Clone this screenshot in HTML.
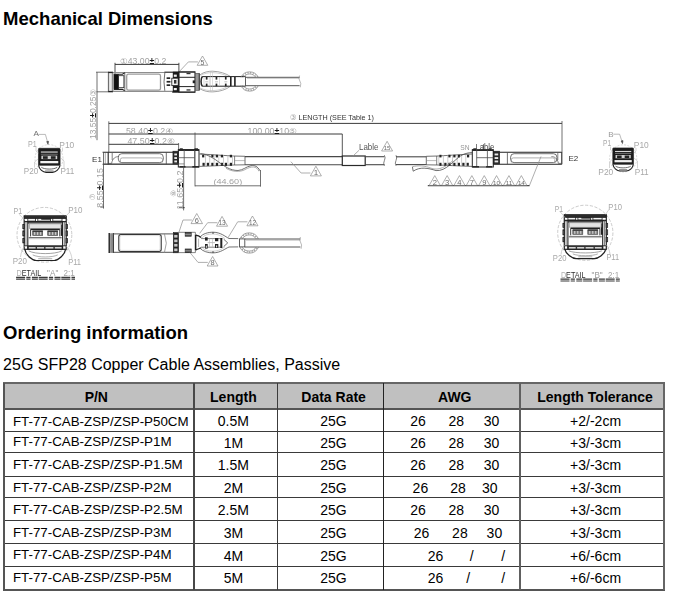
<!DOCTYPE html>
<html><head><meta charset="utf-8">
<style>
html,body{margin:0;padding:0;background:#fff;}
body{width:679px;height:598px;position:relative;overflow:hidden;font-family:"Liberation Sans",sans-serif;color:#000;}
h1{position:absolute;left:3.1px;margin:0;font-size:18.5px;font-weight:bold;line-height:20px;white-space:nowrap;}
#h1a{top:9px;}
#h1b{top:323px;}
#sub{position:absolute;left:3.1px;top:355.5px;font-size:16px;line-height:18px;white-space:nowrap;}
#tb{position:absolute;left:0;top:0;font-size:14px;}
#tb div{position:absolute;}
#tb .hl{left:4px;width:661px;height:1px;background:#3a3a3a;}
#tb .vl{top:383px;height:207px;width:1.4px;background:#444;}
#tb .t{width:200px;text-align:center;line-height:16px;height:16px;white-space:nowrap;}
#tb .b{font-weight:bold;}
#tb .p{text-align:left;font-size:13.35px;width:auto;}
#tb .n{text-align:left;width:auto;}
#dwg{position:absolute;left:0;top:40px;filter:blur(0.32px);}
</style></head><body>
<h1 id="h1a">Mechanical Dimensions</h1>
<svg id="dwg" width="679" height="270" viewBox="0 40 679 270" font-family="Liberation Sans, DejaVu Sans, sans-serif" fill="none">
<text x="120" y="64.1" font-size="8.3" fill="#a2a2a2" stroke="none" textLength="46.3" lengthAdjust="spacingAndGlyphs">①43.00<tspan fill="#1a1a1a" font-weight="bold">±</tspan>0.2</text>
<line x1="115" y1="64.4" x2="178.9" y2="64.4" stroke="#3a3a3a" stroke-width="1"/>
<line x1="115" y1="62.8" x2="115" y2="73.6" stroke="#3a3a3a" stroke-width="0.9"/>
<line x1="178.9" y1="62.8" x2="178.9" y2="72" stroke="#3a3a3a" stroke-width="0.9"/>
<polyline points="179,71.9 188.4,61.9 197.9,61.9" stroke="#8c8c8c" stroke-width="0.7" fill="none"/>
<polygon points="197.2,65.3 202.5,56.0 207.8,65.3" stroke="#8c8c8c" stroke-width="0.7" fill="none"/>
<text x="202.5" y="64.5" font-size="7" fill="#6a6a6a" stroke="none" text-anchor="middle">5</text>
<line x1="96" y1="72.2" x2="109" y2="72.2" stroke="#4c4c4c" stroke-width="0.8"/>
<line x1="97" y1="72.2" x2="97" y2="140.2" stroke="#4c4c4c" stroke-width="0.8"/>
<line x1="96.5" y1="91.8" x2="108.4" y2="91.8" stroke="#4c4c4c" stroke-width="0.8"/>
<text x="96.4" y="139" font-size="8.3" fill="#a2a2a2" stroke="none" textLength="50" lengthAdjust="spacingAndGlyphs" transform="rotate(-90 96.4 139)">13.55<tspan fill="#1a1a1a" font-weight="bold">±</tspan>0.25③</text>
<line x1="108.4" y1="72.2" x2="108.4" y2="91.8" stroke="#4c4c4c" stroke-width="0.9"/>
<line x1="112.8" y1="72.2" x2="112.8" y2="91.8" stroke="#4c4c4c" stroke-width="0.9"/>
<line x1="109.9" y1="72.5" x2="109.9" y2="91.5" stroke="#aaa" stroke-width="0.6"/>
<line x1="111.7" y1="72.5" x2="111.7" y2="91.5" stroke="#aaa" stroke-width="0.6"/>
<line x1="108.2" y1="72.4" x2="113" y2="72.4" stroke="#222" stroke-width="1.4"/>
<line x1="108.2" y1="91.6" x2="113" y2="91.6" stroke="#222" stroke-width="1.4"/>
<line x1="112.8" y1="72.5" x2="179" y2="72.5" stroke="#8e8e8e" stroke-width="1.2"/>
<line x1="112.8" y1="91.4" x2="179" y2="91.4" stroke="#8e8e8e" stroke-width="1.2"/>
<line x1="164.4" y1="72.1" x2="195" y2="72.1" stroke="#222" stroke-width="0.9"/>
<line x1="172" y1="92.1" x2="195" y2="92.1" stroke="#222" stroke-width="0.9"/>
<rect x="114" y="74.3" width="4.6" height="15" rx="0" stroke="#222" stroke-width="0.6" fill="#111"/>
<path d="M114,74.2 H122.4 L124.8,72.8 M114,89.4 H122.4 L124.8,90.9" stroke="#222" stroke-width="1.1" fill="none"/>
<rect x="118.6" y="75.7" width="5.3" height="12" rx="0" stroke="#222" stroke-width="0.8" fill="#fff"/>
<line x1="124.8" y1="72.8" x2="124.8" y2="91" stroke="#4c4c4c" stroke-width="0.8"/>
<rect x="126.7" y="74.1" width="33.8" height="16.1" rx="1.8" stroke="#9c9c9c" stroke-width="1.3" fill="none"/>
<path d="M164.8,73 Q163.2,81.8 164.8,90.8" stroke="#4c4c4c" stroke-width="0.8" fill="none"/>
<rect x="166.6" y="77.3" width="3.6" height="1.7" rx="0" stroke="#222" stroke-width="0" fill="#222"/>
<rect x="166.6" y="80.9" width="3.6" height="1.7" rx="0" stroke="#222" stroke-width="0" fill="#222"/>
<rect x="166.6" y="84.3" width="3.6" height="1.7" rx="0" stroke="#222" stroke-width="0" fill="#222"/>
<line x1="170.2" y1="81.8" x2="172.8" y2="81.8" stroke="#4c4c4c" stroke-width="0.7"/>
<rect x="172.8" y="71.7" width="6.2" height="20.7" rx="0" stroke="#222" stroke-width="0" fill="#1a1a1a"/>
<rect x="173.8" y="74.6" width="3" height="2.2" rx="0" stroke="#222" stroke-width="0" fill="#f0f0f0"/>
<rect x="173.8" y="88" width="3" height="2.2" rx="0" stroke="#222" stroke-width="0" fill="#f0f0f0"/>
<rect x="171.8" y="78.2" width="6.4" height="7.4" rx="0" stroke="#222" stroke-width="0.8" fill="#f4f4f4"/>
<rect x="174" y="80" width="2.4" height="3.6" rx="0" stroke="#222" stroke-width="0" fill="#333"/>
<rect x="179" y="71.9" width="16" height="20.3" rx="0" stroke="#222" stroke-width="1.1" fill="none"/>
<line x1="179" y1="77.3" x2="195" y2="77.3" stroke="#222" stroke-width="1"/>
<line x1="179" y1="86.6" x2="195" y2="86.6" stroke="#222" stroke-width="1"/>
<rect x="186.5" y="72.9" width="4" height="1.3" rx="0" stroke="#222" stroke-width="0" fill="#333"/>
<rect x="186.5" y="89.3" width="4" height="1.3" rx="0" stroke="#222" stroke-width="0" fill="#333"/>
<rect x="192.7" y="80.4" width="2.3" height="2.8" rx="0" stroke="#222" stroke-width="0" fill="#222"/>
<rect x="195.3" y="73.4" width="3.9" height="16.9" rx="0" stroke="#555" stroke-width="0.7" fill="#9a9a9a"/>
<line x1="199.3" y1="73.4" x2="199.3" y2="90.3" stroke="#333" stroke-width="0.9"/>
<path d="M200,74.8 C204,72 208,71.2 212.5,71.2 C220,71.4 226,73.6 230.5,76.5 M200,88.8 C204,91.2 208,91.9 212.5,91.9 C220,91.7 226,89.6 230.5,86.2" stroke="#8e8e8e" stroke-width="0.8" fill="none"/>
<path d="M200.4,75.6 C204,73.4 208,72.6 212.5,72.6 C219,72.8 224,74.4 228,76.5 M200.4,88 C204,90 208,90.6 212.5,90.6 C219,90.4 224,88.9 228,86.2" stroke="#b0b0b0" stroke-width="0.6" fill="none"/>
<path d="M202.4,76.6 C200.6,78.5 200.6,84.5 202.4,86.2" stroke="#222" stroke-width="1.5" fill="none"/>
<line x1="202.2" y1="76.6" x2="245.5" y2="76.6" stroke="#222" stroke-width="1"/>
<line x1="202.2" y1="86.2" x2="245.5" y2="86.2" stroke="#222" stroke-width="1"/>
<line x1="204" y1="77" x2="204" y2="86" stroke="#c4c4c4" stroke-width="0.6"/>
<line x1="209.3" y1="77" x2="209.3" y2="86" stroke="#c4c4c4" stroke-width="0.6"/>
<line x1="219.5" y1="77" x2="219.5" y2="86" stroke="#c4c4c4" stroke-width="0.6"/>
<line x1="210.4" y1="71.4" x2="210.4" y2="91.7" stroke="#bbb" stroke-width="0.5"/>
<line x1="212.5" y1="71.4" x2="212.5" y2="91.7" stroke="#bbb" stroke-width="0.5"/>
<rect x="205.8" y="77" width="1.7" height="2.6" rx="0" stroke="#222" stroke-width="0" fill="#222"/>
<rect x="205.8" y="83.6" width="1.7" height="2.6" rx="0" stroke="#222" stroke-width="0" fill="#222"/>
<line x1="205.20000000000002" y1="81.8" x2="208.20000000000002" y2="81.8" stroke="#999" stroke-width="0.6"/>
<rect x="215.6" y="77" width="1.7" height="2.6" rx="0" stroke="#222" stroke-width="0" fill="#222"/>
<rect x="215.6" y="83.6" width="1.7" height="2.6" rx="0" stroke="#222" stroke-width="0" fill="#222"/>
<line x1="215.0" y1="81.8" x2="218.0" y2="81.8" stroke="#999" stroke-width="0.6"/>
<rect x="224.9" y="77" width="1.7" height="2.6" rx="0" stroke="#222" stroke-width="0" fill="#222"/>
<rect x="224.9" y="83.6" width="1.7" height="2.6" rx="0" stroke="#222" stroke-width="0" fill="#222"/>
<line x1="224.3" y1="81.8" x2="227.3" y2="81.8" stroke="#999" stroke-width="0.6"/>
<rect x="230" y="77" width="1.6" height="9.2" rx="0" stroke="#222" stroke-width="0" fill="#222"/>
<rect x="234.1" y="77" width="1.6" height="9.2" rx="0" stroke="#222" stroke-width="0" fill="#222"/>
<line x1="245.5" y1="76.6" x2="245.5" y2="86.2" stroke="#4c4c4c" stroke-width="0.9"/>
<line x1="245.6" y1="77.3" x2="299.6" y2="77.3" stroke="#555" stroke-width="1"/>
<line x1="245.6" y1="85.7" x2="299.6" y2="85.7" stroke="#555" stroke-width="1"/>
<line x1="247" y1="78.3" x2="299.6" y2="78.3" stroke="#8c8c8c" stroke-width="0.5"/>
<path d="M299.6,75.5 l-0.7,3 l1.9,5 l-0.5,3.8" stroke="#8c8c8c" stroke-width="0.6" fill="none"/>
<path d="M258.3,77.3 A9.7,9.7 0 0 0 240.9,77.3" stroke="#777" stroke-width="0.7" fill="none"/>
<path d="M240.9,85.7 A9.7,9.7 0 0 0 258.3,85.7" stroke="#777" stroke-width="0.7" fill="none"/>
<path d="M255.9,77.3 A7.6,7.6 0 0 0 243.3,77.3" stroke="#777" stroke-width="0.7" fill="none"/>
<path d="M243.3,85.7 A7.6,7.6 0 0 0 255.9,85.7" stroke="#777" stroke-width="0.7" fill="none"/>
<path d="M257.2,77.3 A8.649999999999999,8.649999999999999 0 0 0 242.0,77.3" stroke="#8c8c8c" stroke-width="1.6" fill="none" stroke-dasharray="0.7 1.9"/>
<path d="M242.0,85.7 A8.649999999999999,8.649999999999999 0 0 0 257.2,85.7" stroke="#8c8c8c" stroke-width="1.6" fill="none" stroke-dasharray="0.7 1.9"/>
<line x1="108.8" y1="121.3" x2="108.8" y2="152" stroke="#4c4c4c" stroke-width="0.8"/>
<line x1="108.8" y1="123.4" x2="562" y2="123.4" stroke="#3c3c3c" stroke-width="1"/>
<line x1="562" y1="121" x2="562" y2="152.5" stroke="#4c4c4c" stroke-width="0.8"/>
<text x="290" y="120.4" font-size="8.1" fill="#333" stroke="none" textLength="84" lengthAdjust="spacingAndGlyphs"><tspan fill="#999">③</tspan> LENGTH (SEE Table 1)</text>
<line x1="108.8" y1="134" x2="342.3" y2="134" stroke="#3a3a3a" stroke-width="1"/>
<text x="125.9" y="133.8" font-size="8.3" fill="#a2a2a2" stroke="none" textLength="47.3" lengthAdjust="spacingAndGlyphs">58.40<tspan fill="#1a1a1a" font-weight="bold">±</tspan>0.2④</text>
<text x="247.5" y="133.9" font-size="8.3" fill="#a2a2a2" stroke="none" textLength="49.5" lengthAdjust="spacingAndGlyphs">100.00<tspan fill="#1a1a1a" font-weight="bold">±</tspan>10⑤</text>
<line x1="195" y1="132.5" x2="195" y2="186.4" stroke="#4c4c4c" stroke-width="0.8"/>
<line x1="342.3" y1="134" x2="342.3" y2="156" stroke="#444" stroke-width="0.9"/>
<line x1="108.8" y1="144.3" x2="178.6" y2="144.3" stroke="#3a3a3a" stroke-width="1"/>
<text x="127.4" y="144.2" font-size="8.3" fill="#a2a2a2" stroke="none" textLength="47.6" lengthAdjust="spacingAndGlyphs">47.50<tspan fill="#1a1a1a" font-weight="bold">±</tspan>0.2⑥</text>
<line x1="178.6" y1="143" x2="178.6" y2="151.5" stroke="#4c4c4c" stroke-width="0.8"/>
<text x="92.1" y="162.3" font-size="8" fill="#333" stroke="none">E1</text>
<line x1="105.3" y1="153" x2="105.3" y2="163.6" stroke="#8c8c8c" stroke-width="0.7"/>
<line x1="102.6" y1="152.2" x2="173" y2="152.2" stroke="#222" stroke-width="1.1"/>
<line x1="102.6" y1="164.2" x2="178.3" y2="164.2" stroke="#222" stroke-width="1.1"/>
<line x1="108.2" y1="152.2" x2="108.2" y2="164.2" stroke="#222" stroke-width="1.1"/>
<path d="M112.2,153 V160 M108.5,163.4 H111.60000000000001 C112.60000000000001,158 115.60000000000001,156.6 118.60000000000001,156.6" stroke="#4c4c4c" stroke-width="0.7" fill="none"/>
<rect x="118.3" y="153.7" width="45.0" height="8.9" rx="3.5" stroke="#4c4c4c" stroke-width="0.8" fill="none"/>
<path d="M120.39999999999999,162.4 V159.6 Q120.39999999999999,157.9 122.39999999999999,157.9 H160.50000000000003 Q162.60000000000002,157.9 162.60000000000002,159.6 V162.4" stroke="#8c8c8c" stroke-width="0.7" fill="none"/>
<line x1="166.3" y1="152.2" x2="166.3" y2="164.2" stroke="#4c4c4c" stroke-width="0.8"/>
<rect x="173" y="151.3" width="5.3" height="12.6" rx="0" stroke="#222" stroke-width="0.8" fill="#2a2a2a"/>
<rect x="174.3" y="153.5" width="2.7" height="1.9" rx="0" stroke="#fff" stroke-width="0" fill="#e8e8e8"/>
<rect x="174.3" y="157.1" width="2.7" height="1.9" rx="0" stroke="#fff" stroke-width="0" fill="#e8e8e8"/>
<rect x="174.3" y="160.5" width="2.7" height="1.9" rx="0" stroke="#fff" stroke-width="0" fill="#e8e8e8"/>
<rect x="178.3" y="149.7" width="20.7" height="17.3" rx="0" stroke="#222" stroke-width="1" fill="none"/>
<line x1="178.3" y1="150.1" x2="199" y2="150.1" stroke="#222" stroke-width="1.7"/>
<line x1="179.8" y1="148.9" x2="182.8" y2="148.9" stroke="#222" stroke-width="1.2"/>
<line x1="194.5" y1="148.9" x2="198" y2="148.9" stroke="#222" stroke-width="1.2"/>
<line x1="178.3" y1="157.7" x2="194.6" y2="157.7" stroke="#4c4c4c" stroke-width="0.8"/>
<line x1="184.20000000000002" y1="150" x2="184.20000000000002" y2="167" stroke="#4c4c4c" stroke-width="0.8"/>
<line x1="194.6" y1="150" x2="194.6" y2="167" stroke="#4c4c4c" stroke-width="0.8"/>
<line x1="179.5" y1="166.8" x2="185.5" y2="166.8" stroke="#222" stroke-width="1.4"/>
<line x1="192.3" y1="166.8" x2="199" y2="166.8" stroke="#222" stroke-width="1.4"/>
<path d="M199.3,154 L205.3,154.3 L233.3,156 L245.0,156.3 M199.3,166.4 L205.3,166.2 L233.3,165 L245.0,164.8" stroke="#4c4c4c" stroke-width="0.8" fill="none"/>
<line x1="245.0" y1="156.3" x2="245.0" y2="164.8" stroke="#4c4c4c" stroke-width="0.8"/>
<line x1="234.6" y1="156" x2="234.6" y2="165" stroke="#4c4c4c" stroke-width="0.7"/>
<line x1="234.6" y1="160.6" x2="245.0" y2="160.6" stroke="#8c8c8c" stroke-width="0.6"/>
<rect x="202.1" y="154.8" width="2.2" height="2.6" rx="0" stroke="#222" stroke-width="0" fill="#222"/>
<rect x="211.3" y="154.8" width="2.2" height="2.6" rx="0" stroke="#222" stroke-width="0" fill="#222"/>
<rect x="215.8" y="154.8" width="2.2" height="2.6" rx="0" stroke="#222" stroke-width="0" fill="#222"/>
<rect x="220.8" y="154.8" width="2.2" height="2.6" rx="0" stroke="#222" stroke-width="0" fill="#222"/>
<rect x="229.8" y="154.8" width="2.2" height="2.6" rx="0" stroke="#222" stroke-width="0" fill="#222"/>
<rect x="202.5" y="162.8" width="2.2" height="3" rx="0" stroke="#222" stroke-width="0" fill="#222"/>
<rect x="206.8" y="162.8" width="2.2" height="3" rx="0" stroke="#222" stroke-width="0" fill="#222"/>
<rect x="211.3" y="162.8" width="2.2" height="3" rx="0" stroke="#222" stroke-width="0" fill="#222"/>
<rect x="215.8" y="162.8" width="2.2" height="3" rx="0" stroke="#222" stroke-width="0" fill="#222"/>
<rect x="220.8" y="162.8" width="2.2" height="3" rx="0" stroke="#222" stroke-width="0" fill="#222"/>
<rect x="224.8" y="162.8" width="2.2" height="3" rx="0" stroke="#222" stroke-width="0" fill="#222"/>
<rect x="229.8" y="162.8" width="2.2" height="3" rx="0" stroke="#222" stroke-width="0" fill="#222"/>
<line x1="205.5" y1="155" x2="205.5" y2="165.6" stroke="#aaa" stroke-width="0.6"/>
<line x1="209.7" y1="155" x2="209.7" y2="165.6" stroke="#aaa" stroke-width="0.6"/>
<line x1="214.1" y1="155" x2="214.1" y2="165.6" stroke="#aaa" stroke-width="0.6"/>
<line x1="218.8" y1="155" x2="218.8" y2="165.6" stroke="#aaa" stroke-width="0.6"/>
<line x1="223.5" y1="155" x2="223.5" y2="165.6" stroke="#aaa" stroke-width="0.6"/>
<line x1="227.9" y1="155" x2="227.9" y2="165.6" stroke="#aaa" stroke-width="0.6"/>
<line x1="232.5" y1="155" x2="232.5" y2="165.6" stroke="#aaa" stroke-width="0.6"/>
<line x1="245" y1="156.6" x2="342.3" y2="156.6" stroke="#484848" stroke-width="1.1"/>
<line x1="245" y1="164.8" x2="342.3" y2="164.8" stroke="#484848" stroke-width="1.1"/>
<rect x="342.3" y="156" width="22.9" height="9.5" rx="0" stroke="#2a2a2a" stroke-width="1.2" fill="none"/>
<line x1="365.2" y1="156.7" x2="384.4" y2="156.7" stroke="#484848" stroke-width="1.1"/>
<line x1="365.2" y1="164.7" x2="384.4" y2="164.7" stroke="#484848" stroke-width="1.1"/>
<path d="M384.4,155.2 q1.4,2.6 0,5.3 q-1.4,2.6 0,5.3" stroke="#4c4c4c" stroke-width="0.7" fill="none"/>
<path d="M396,155.2 q1.4,2.6 0,5.3 q-1.4,2.6 0,5.3" stroke="#4c4c4c" stroke-width="0.7" fill="none"/>
<path d="M200.4,153.7 C206,154 212,157 218,161.5 C224,166 230,170.6 238,170.5 C243,170.3 246,166.6 251,165.7 C255,165.1 257.5,166.5 259.8,170.4" stroke="#4c4c4c" stroke-width="0.8" fill="none"/>
<path d="M226,168.3 C232,171.8 240,172.4 245,169.6 C248,167.8 251,166.9 253.5,167 C256,167.2 257.6,168.6 258.8,171 L259.8,170.4" stroke="#8c8c8c" stroke-width="0.7" fill="none"/>
<line x1="195" y1="185.8" x2="260.5" y2="185.8" stroke="#4c4c4c" stroke-width="0.8"/>
<line x1="260.5" y1="170" x2="260.5" y2="186.6" stroke="#4c4c4c" stroke-width="0.8"/>
<text x="213.4" y="183.6" font-size="8" fill="#a2a2a2" stroke="none" textLength="28.8" lengthAdjust="spacingAndGlyphs">(44.60)</text>
<polyline points="290.9,161.7 301.1,173 310.4,173" stroke="#8c8c8c" stroke-width="0.7" fill="none"/>
<polygon points="310.4,175.9 315.9,166.2 321.4,175.9" stroke="#8c8c8c" stroke-width="0.7" fill="none"/>
<text x="315.9" y="175.1" font-size="8" fill="#6a6a6a" stroke="none" text-anchor="middle">1</text>
<text x="359" y="150" font-size="8.4" fill="#555" stroke="none" textLength="19.5" lengthAdjust="spacingAndGlyphs">Lable</text>
<line x1="359" y1="150.3" x2="352.8" y2="156.2" stroke="#8c8c8c" stroke-width="0.7"/>
<polygon points="381.6,151 387.1,141.3 392.6,151" stroke="#8c8c8c" stroke-width="0.7" fill="none"/>
<text x="387.1" y="150.2" font-size="6" fill="#6a6a6a" stroke="none" text-anchor="middle">15</text>
<line x1="103.5" y1="152.3" x2="103.5" y2="208.6" stroke="#4c4c4c" stroke-width="0.8"/>
<line x1="100.3" y1="207" x2="103.5" y2="207" stroke="#222" stroke-width="0.8"/>
<text x="102.9" y="207.7" font-size="8.3" fill="#a2a2a2" stroke="none" textLength="39.7" lengthAdjust="spacingAndGlyphs" transform="rotate(-90 102.9 207.7)">8.55<tspan fill="#1a1a1a" font-weight="bold">±</tspan>0.15</text>
<text x="95" y="200.2" font-size="7.5" fill="#a2a2a2" stroke="none" transform="rotate(-90 95 200.2)">⑦</text>
<line x1="103.5" y1="163.9" x2="184.2" y2="163.9" stroke="#4c4c4c" stroke-width="0.6"/>
<line x1="183.6" y1="166" x2="183.6" y2="210.4" stroke="#4c4c4c" stroke-width="0.8"/>
<line x1="179" y1="207.7" x2="184.8" y2="207.7" stroke="#222" stroke-width="0.8"/>
<text x="182.8" y="209.5" font-size="8.3" fill="#a2a2a2" stroke="none" textLength="39" lengthAdjust="spacingAndGlyphs" transform="rotate(-90 182.8 209.5)">11.65<tspan fill="#1a1a1a" font-weight="bold">±</tspan>0.2</text>
<text x="176" y="196.8" font-size="7.5" fill="#a2a2a2" stroke="none" transform="rotate(-90 176 196.8)">⑧</text>
<text x="568.4" y="160.7" font-size="8" fill="#333" stroke="none">E2</text>
<line x1="396" y1="156.8" x2="426.4" y2="156.8" stroke="#484848" stroke-width="1.1"/>
<line x1="396" y1="164.6" x2="426.4" y2="164.6" stroke="#484848" stroke-width="1.1"/>
<path d="M472,154 L466,154.3 L438,156 L426.3,156.3 M472,166.4 L466,166.2 L438,165 L426.3,164.8" stroke="#4c4c4c" stroke-width="0.8" fill="none"/>
<line x1="426.3" y1="156.3" x2="426.3" y2="164.8" stroke="#4c4c4c" stroke-width="0.8"/>
<line x1="436.7" y1="156" x2="436.7" y2="165" stroke="#4c4c4c" stroke-width="0.7"/>
<line x1="436.7" y1="160.6" x2="426.3" y2="160.6" stroke="#8c8c8c" stroke-width="0.6"/>
<rect x="467.0" y="154.8" width="2.2" height="2.6" rx="0" stroke="#222" stroke-width="0" fill="#222"/>
<rect x="457.8" y="154.8" width="2.2" height="2.6" rx="0" stroke="#222" stroke-width="0" fill="#222"/>
<rect x="453.3" y="154.8" width="2.2" height="2.6" rx="0" stroke="#222" stroke-width="0" fill="#222"/>
<rect x="448.3" y="154.8" width="2.2" height="2.6" rx="0" stroke="#222" stroke-width="0" fill="#222"/>
<rect x="439.3" y="154.8" width="2.2" height="2.6" rx="0" stroke="#222" stroke-width="0" fill="#222"/>
<rect x="466.6" y="162.8" width="2.2" height="3" rx="0" stroke="#222" stroke-width="0" fill="#222"/>
<rect x="462.3" y="162.8" width="2.2" height="3" rx="0" stroke="#222" stroke-width="0" fill="#222"/>
<rect x="457.8" y="162.8" width="2.2" height="3" rx="0" stroke="#222" stroke-width="0" fill="#222"/>
<rect x="453.3" y="162.8" width="2.2" height="3" rx="0" stroke="#222" stroke-width="0" fill="#222"/>
<rect x="448.3" y="162.8" width="2.2" height="3" rx="0" stroke="#222" stroke-width="0" fill="#222"/>
<rect x="444.3" y="162.8" width="2.2" height="3" rx="0" stroke="#222" stroke-width="0" fill="#222"/>
<rect x="439.3" y="162.8" width="2.2" height="3" rx="0" stroke="#222" stroke-width="0" fill="#222"/>
<line x1="465.8" y1="155" x2="465.8" y2="165.6" stroke="#aaa" stroke-width="0.6"/>
<line x1="461.6" y1="155" x2="461.6" y2="165.6" stroke="#aaa" stroke-width="0.6"/>
<line x1="457.2" y1="155" x2="457.2" y2="165.6" stroke="#aaa" stroke-width="0.6"/>
<line x1="452.5" y1="155" x2="452.5" y2="165.6" stroke="#aaa" stroke-width="0.6"/>
<line x1="447.8" y1="155" x2="447.8" y2="165.6" stroke="#aaa" stroke-width="0.6"/>
<line x1="443.4" y1="155" x2="443.4" y2="165.6" stroke="#aaa" stroke-width="0.6"/>
<line x1="438.8" y1="155" x2="438.8" y2="165.6" stroke="#aaa" stroke-width="0.6"/>
<line x1="561.8" y1="152.2" x2="499.5" y2="152.2" stroke="#222" stroke-width="1.1"/>
<line x1="561.8" y1="164.2" x2="493.3" y2="164.2" stroke="#222" stroke-width="1.1"/>
<line x1="561.8" y1="152.2" x2="561.8" y2="164.2" stroke="#222" stroke-width="1.1"/>
<path d="M557.8,153 V160 M561.5,163.4 H558.4 C557.4,158 554.4,156.6 551.4,156.6" stroke="#4c4c4c" stroke-width="0.7" fill="none"/>
<rect x="510.6" y="153.7" width="46.3" height="8.9" rx="3.5" stroke="#4c4c4c" stroke-width="0.8" fill="none"/>
<path d="M554.8,162.4 V159.6 Q554.8,157.9 552.8,157.9 H513.4 Q511.3,157.9 511.3,159.6 V162.4" stroke="#8c8c8c" stroke-width="0.7" fill="none"/>
<line x1="507.4" y1="152.2" x2="507.4" y2="164.2" stroke="#4c4c4c" stroke-width="0.8"/>
<rect x="493.3" y="151.3" width="6.2" height="12.6" rx="0" stroke="#222" stroke-width="0.8" fill="#2a2a2a"/>
<rect x="494.6" y="153.5" width="3.6" height="1.9" rx="0" stroke="#fff" stroke-width="0" fill="#e8e8e8"/>
<rect x="494.6" y="157.1" width="3.6" height="1.9" rx="0" stroke="#fff" stroke-width="0" fill="#e8e8e8"/>
<rect x="494.6" y="160.5" width="3.6" height="1.9" rx="0" stroke="#fff" stroke-width="0" fill="#e8e8e8"/>
<rect x="472.3" y="149.7" width="21.0" height="17.3" rx="0" stroke="#222" stroke-width="1" fill="none"/>
<line x1="493.3" y1="150.1" x2="472.3" y2="150.1" stroke="#222" stroke-width="1.7"/>
<line x1="491.8" y1="148.9" x2="488.8" y2="148.9" stroke="#222" stroke-width="1.2"/>
<line x1="476.8" y1="148.9" x2="473.3" y2="148.9" stroke="#222" stroke-width="1.2"/>
<line x1="493.3" y1="157.7" x2="476.7" y2="157.7" stroke="#4c4c4c" stroke-width="0.8"/>
<line x1="487.40000000000003" y1="150" x2="487.40000000000003" y2="167" stroke="#4c4c4c" stroke-width="0.8"/>
<line x1="476.7" y1="150" x2="476.7" y2="167" stroke="#4c4c4c" stroke-width="0.8"/>
<line x1="492.1" y1="166.8" x2="486.1" y2="166.8" stroke="#222" stroke-width="1.4"/>
<line x1="479.0" y1="166.8" x2="472.3" y2="166.8" stroke="#222" stroke-width="1.4"/>
<text x="460.2" y="149.6" font-size="7.2" fill="#969696" stroke="none" textLength="9.3" lengthAdjust="spacingAndGlyphs">SN</text>
<text x="475.4" y="149.6" font-size="8.2" fill="#4a4a4a" stroke="none" textLength="18.9" lengthAdjust="spacingAndGlyphs">Lable</text>
<line x1="483.6" y1="144.2" x2="483.6" y2="150" stroke="#222" stroke-width="0.7"/>
<path d="M412.4,166.8 L413.2,171.2 C420,166.5 428,168 436,170.6 C446,171.5 454,160 461,155.6 C465,153.3 469,152.6 472.5,152.5" stroke="#4c4c4c" stroke-width="0.8" fill="none"/>
<path d="M412.4,166.8 C418,165.2 425,165.6 431,168.2 C439,171.2 447,166 453,160.5" stroke="#8c8c8c" stroke-width="0.7" fill="none"/>
<line x1="427.8" y1="185.7" x2="529.6" y2="185.7" stroke="#4a4a4a" stroke-width="1.2"/>
<line x1="529.4" y1="185.7" x2="541" y2="156.5" stroke="#8c8c8c" stroke-width="0.7"/>
<polygon points="429.2,185.4 434.75,175.6 440.3,185.4" stroke="#8c8c8c" stroke-width="0.7" fill="none"/>
<text x="434.75" y="184.6" font-size="7.6" fill="#6a6a6a" stroke="none" text-anchor="middle">2</text>
<polygon points="441.6,185.4 447.15,175.6 452.7,185.4" stroke="#8c8c8c" stroke-width="0.7" fill="none"/>
<text x="447.15" y="184.6" font-size="7.6" fill="#6a6a6a" stroke="none" text-anchor="middle">3</text>
<polygon points="453.9,185.4 459.45,175.6 465.0,185.4" stroke="#8c8c8c" stroke-width="0.7" fill="none"/>
<text x="459.45" y="184.6" font-size="7.6" fill="#6a6a6a" stroke="none" text-anchor="middle">4</text>
<polygon points="466.3,185.4 471.85,175.6 477.4,185.4" stroke="#8c8c8c" stroke-width="0.7" fill="none"/>
<text x="471.85" y="184.6" font-size="7.6" fill="#6a6a6a" stroke="none" text-anchor="middle">7</text>
<polygon points="478.7,185.4 484.25,175.6 489.8,185.4" stroke="#8c8c8c" stroke-width="0.7" fill="none"/>
<text x="484.25" y="184.6" font-size="7.6" fill="#6a6a6a" stroke="none" text-anchor="middle">9</text>
<polygon points="491.0,185.4 496.55,175.6 502.1,185.4" stroke="#8c8c8c" stroke-width="0.7" fill="none"/>
<text x="496.55" y="184.6" font-size="6.2" fill="#6a6a6a" stroke="none" text-anchor="middle">10</text>
<polygon points="503.4,185.4 508.95,175.6 514.5,185.4" stroke="#8c8c8c" stroke-width="0.7" fill="none"/>
<text x="508.95" y="184.6" font-size="6.2" fill="#6a6a6a" stroke="none" text-anchor="middle">11</text>
<polygon points="515.8,185.4 521.3499999999999,175.6 526.9,185.4" stroke="#8c8c8c" stroke-width="0.7" fill="none"/>
<text x="521.3499999999999" y="184.6" font-size="6.2" fill="#6a6a6a" stroke="none" text-anchor="middle">14</text>
<rect x="109.2" y="233.3" width="4.2" height="19.599999999999987" rx="0" stroke="#333" stroke-width="0" fill="#aaa"/>
<line x1="109.2" y1="233.1" x2="109.2" y2="253.1" stroke="#222" stroke-width="1.4"/>
<line x1="113.3" y1="233.1" x2="113.3" y2="253.1" stroke="#222" stroke-width="1.1"/>
<line x1="111.2" y1="233.3" x2="111.2" y2="252.9" stroke="#666" stroke-width="0.6"/>
<line x1="113.8" y1="233.8" x2="173.6" y2="233.8" stroke="#767676" stroke-width="1.3"/>
<line x1="113.8" y1="252.29999999999998" x2="173.6" y2="252.29999999999998" stroke="#767676" stroke-width="1.3"/>
<rect x="118.8" y="234.5" width="42.4" height="17" rx="2.2" stroke="#333" stroke-width="1.1" fill="none"/>
<rect x="119.9" y="235.6" width="40.2" height="14.8" rx="1.6" stroke="#c4c4c4" stroke-width="0.6" fill="none"/>
<path d="M164.4,233.6 L166.3,243.2 L164.4,252.6" stroke="#8c8c8c" stroke-width="0.8" fill="none"/>
<rect x="173.3" y="232.6" width="5.3" height="20.2" rx="0" stroke="#222" stroke-width="0.6" fill="#222"/>
<rect x="174.2" y="234.9" width="3.3" height="2.7" rx="0" stroke="#ddd" stroke-width="0" fill="#c8c8c8"/>
<rect x="174.2" y="239.5" width="3.3" height="2.7" rx="0" stroke="#ddd" stroke-width="0" fill="#c8c8c8"/>
<rect x="174.2" y="243.9" width="3.3" height="2.7" rx="0" stroke="#ddd" stroke-width="0" fill="#c8c8c8"/>
<rect x="174.2" y="248.5" width="3.3" height="2.7" rx="0" stroke="#ddd" stroke-width="0" fill="#c8c8c8"/>
<path d="M178.6,232.3 H195.4 M178.6,252.6 H195.4" stroke="#666" stroke-width="0.8" fill="none"/>
<rect x="185.2" y="232.6" width="6" height="3.6" rx="0" stroke="#222" stroke-width="0.7" fill="#555"/>
<rect x="185.2" y="249" width="6" height="3.6" rx="0" stroke="#222" stroke-width="0.7" fill="#555"/>
<line x1="185.2" y1="234.4" x2="191.2" y2="234.4" stroke="#ccc" stroke-width="0.5"/>
<line x1="185.2" y1="250.8" x2="191.2" y2="250.8" stroke="#ccc" stroke-width="0.5"/>
<path d="M195.6,234.6 V250.4" stroke="#222" stroke-width="1.6" fill="none"/>
<path d="M195.6,235.2 C198,235.6 200,236.6 201.2,237.4 M195.6,249.8 C198,249.4 200,248.4 201.2,247.8" stroke="#222" stroke-width="1.2" fill="none"/>
<path d="M198.6,238.5 V247" stroke="#999" stroke-width="0.7" fill="none"/>
<line x1="195.4" y1="232.3" x2="195.4" y2="234.6" stroke="#666" stroke-width="0.8"/>
<line x1="195.4" y1="250.4" x2="195.4" y2="252.6" stroke="#666" stroke-width="0.8"/>
<path d="M199.8,237.3 C203,233.5 208,232.3 213,232.2 C221,232.4 225,236.5 229,238.5 L238.2,238.6 M199.8,248 C203,251.6 208,252.8 213,252.9 C221,252.7 225,248.6 229,247 L238.2,246.9" stroke="#4c4c4c" stroke-width="0.8" fill="none"/>
<path d="M201.5,238.6 C204,235 208,234 213,234 C219,234.2 222,236.6 225,238.6 M201.5,246.8 C204,250.3 208,251.2 213,251.2 C219,251 222,248.8 225,246.8" stroke="#b0b0b0" stroke-width="0.6" fill="none"/>
<line x1="201.2" y1="238.6" x2="222.4" y2="238.6" stroke="#4c4c4c" stroke-width="0.7"/>
<line x1="201.2" y1="247.2" x2="222.4" y2="247.2" stroke="#4c4c4c" stroke-width="0.7"/>
<rect x="205" y="237.3" width="2.7" height="3.3" rx="0" stroke="#222" stroke-width="0" fill="#222"/>
<rect x="205" y="244" width="2.7" height="4.6" rx="0" stroke="#222" stroke-width="0" fill="#222"/>
<rect x="205.8" y="245.6" width="1.1" height="2.2" rx="0" stroke="#222" stroke-width="0" fill="#ddd"/>
<rect x="215" y="238" width="3.3" height="3.2" rx="0" stroke="#222" stroke-width="0" fill="#222"/>
<rect x="215" y="244" width="3.3" height="4" rx="0" stroke="#222" stroke-width="0" fill="#222"/>
<rect x="216" y="245.4" width="1.2" height="2" rx="0" stroke="#222" stroke-width="0" fill="#ddd"/>
<rect x="220.3" y="238" width="2" height="10" rx="0" stroke="#222" stroke-width="0" fill="#222"/>
<line x1="207.7" y1="242.6" x2="215" y2="242.6" stroke="#999" stroke-width="0.6"/>
<line x1="209.5" y1="238.8" x2="209.5" y2="247" stroke="#bbb" stroke-width="0.6"/>
<line x1="212.5" y1="238.8" x2="212.5" y2="247" stroke="#bbb" stroke-width="0.6"/>
<path d="M223.7,239.2 L227.7,242.9 L223.7,246.6" stroke="#4c4c4c" stroke-width="0.8" fill="none"/>
<line x1="213" y1="232.2" x2="213" y2="234" stroke="#222" stroke-width="0.8"/>
<line x1="213" y1="251.2" x2="213" y2="253" stroke="#222" stroke-width="0.8"/>
<rect x="239.5" y="238.9" width="5.3" height="8" rx="0" stroke="#4c4c4c" stroke-width="0.9" fill="none"/>
<line x1="244.8" y1="239" x2="300.4" y2="239" stroke="#555" stroke-width="1"/>
<line x1="244.8" y1="247" x2="300.4" y2="247" stroke="#555" stroke-width="1"/>
<line x1="246" y1="240.2" x2="300.4" y2="240.2" stroke="#8c8c8c" stroke-width="0.5"/>
<path d="M300.4,237 l-0.7,3 l1.9,5 l-0.5,3.8" stroke="#8c8c8c" stroke-width="0.6" fill="none"/>
<path d="M258.5,238.9 A10.2,10.2 0 0 0 239.9,238.9" stroke="#777" stroke-width="0.7" fill="none"/>
<path d="M239.8,246.9 A10.2,10.2 0 0 0 258.6,246.9" stroke="#777" stroke-width="0.7" fill="none"/>
<path d="M256.2,238.9 A8.1,8.1 0 0 0 242.2,238.9" stroke="#777" stroke-width="0.7" fill="none"/>
<path d="M242.1,246.9 A8.1,8.1 0 0 0 256.3,246.9" stroke="#777" stroke-width="0.7" fill="none"/>
<path d="M257.4,238.9 A9.149999999999999,9.149999999999999 0 0 0 241.0,238.9" stroke="#8c8c8c" stroke-width="1.6" fill="none" stroke-dasharray="0.7 1.9"/>
<path d="M240.9,246.9 A9.149999999999999,9.149999999999999 0 0 0 257.5,246.9" stroke="#8c8c8c" stroke-width="1.6" fill="none" stroke-dasharray="0.7 1.9"/>
<polyline points="178.6,233.3 183,220 191.9,220" stroke="#8c8c8c" stroke-width="0.7" fill="none"/>
<polygon points="191,223.6 196.75,213.5 202.5,223.6" stroke="#8c8c8c" stroke-width="0.7" fill="none"/>
<text x="196.75" y="222.79999999999998" font-size="7.4" fill="#6a6a6a" stroke="none" text-anchor="middle">6</text>
<polyline points="190.1,252.7 198,262.4 207.8,262.4" stroke="#8c8c8c" stroke-width="0.7" fill="none"/>
<polygon points="207.2,266 212.6,256.5 218,266" stroke="#8c8c8c" stroke-width="0.7" fill="none"/>
<text x="212.6" y="265.2" font-size="7.4" fill="#6a6a6a" stroke="none" text-anchor="middle">8</text>
<polyline points="199.7,233.3 207.7,222.7 217.4,222.7" stroke="#8c8c8c" stroke-width="0.7" fill="none"/>
<polygon points="216.5,226.2 222.05,216.4 227.6,226.2" stroke="#8c8c8c" stroke-width="0.7" fill="none"/>
<text x="222.05" y="225.39999999999998" font-size="6.4" fill="#6a6a6a" stroke="none" text-anchor="middle">13</text>
<polyline points="228,237.7 237.7,221.8 247.4,221.8" stroke="#8c8c8c" stroke-width="0.7" fill="none"/>
<polygon points="246.9,225.8 252.45,216.0 258,225.8" stroke="#8c8c8c" stroke-width="0.7" fill="none"/>
<text x="252.45" y="225.0" font-size="6.4" fill="#6a6a6a" stroke="none" text-anchor="middle">12</text>
<circle cx="44.4" cy="234.8" r="27.4" stroke="#b4b4b4" stroke-width="0.7" fill="none" stroke-dasharray="3.2 1.6"/>
<g transform="translate(24.2 215.9) scale(1.0)">
<rect x="0" y="0" width="42" height="33.4" rx="0" stroke="#222" stroke-width="1.2" fill="none"/>
<rect x="0.3" y="0.3" width="41.4" height="2.3" rx="0" stroke="#222" stroke-width="0.8" fill="#2a2a2a"/>
<rect x="3.6" y="2.6" width="7.800000000000001" height="2.6" rx="0" stroke="#222" stroke-width="0.8" fill="#f4f4f4"/>
<rect x="13.6" y="2.6" width="12.799999999999999" height="2.6" rx="0" stroke="#222" stroke-width="0.8" fill="#f4f4f4"/>
<rect x="28.6" y="2.6" width="9.199999999999996" height="2.6" rx="0" stroke="#222" stroke-width="0.8" fill="#f4f4f4"/>
<rect x="17" y="2.2" width="9" height="1.6" rx="0" stroke="#222" stroke-width="0" fill="#222"/>
<line x1="0" y1="5.7" x2="42" y2="5.7" stroke="#222" stroke-width="1.3"/>
<line x1="3.6" y1="5.7" x2="3.6" y2="33.4" stroke="#222" stroke-width="1.1"/>
<line x1="38.4" y1="5.7" x2="38.4" y2="33.4" stroke="#222" stroke-width="1.1"/>
<line x1="1.8" y1="5.7" x2="1.8" y2="30.0" stroke="#4c4c4c" stroke-width="0.7"/>
<line x1="40.2" y1="5.7" x2="40.2" y2="30.0" stroke="#4c4c4c" stroke-width="0.7"/>
<rect x="-1.4" y="8.5" width="1.6" height="4.300000000000001" rx="0" stroke="#222" stroke-width="0.7" fill="#555"/>
<rect x="41.8" y="8.5" width="1.6" height="4.300000000000001" rx="0" stroke="#222" stroke-width="0.7" fill="#555"/>
<rect x="-1.4" y="15" width="1.6" height="5" rx="0" stroke="#222" stroke-width="0.7" fill="#555"/>
<rect x="41.8" y="15" width="1.6" height="5" rx="0" stroke="#222" stroke-width="0.7" fill="#555"/>
<rect x="-1.4" y="22.6" width="1.6" height="4.399999999999999" rx="0" stroke="#222" stroke-width="0.7" fill="#555"/>
<rect x="41.8" y="22.6" width="1.6" height="4.399999999999999" rx="0" stroke="#222" stroke-width="0.7" fill="#555"/>
<rect x="36.6" y="8.5" width="2" height="11.5" rx="0" stroke="#222" stroke-width="0" fill="#222"/>
<line x1="3.6" y1="7" x2="38.4" y2="7" stroke="#222" stroke-width="1.2"/>
<rect x="5.2" y="8" width="31.6" height="4.4" rx="0" stroke="#8c8c8c" stroke-width="0.6" fill="#e4e4e4"/>
<line x1="6.4" y1="13.5" x2="35.6" y2="13.5" stroke="#222" stroke-width="1.5"/>
<line x1="6.4" y1="13.5" x2="6.4" y2="20.5" stroke="#222" stroke-width="0.9"/>
<line x1="35.6" y1="13.5" x2="35.6" y2="20.5" stroke="#222" stroke-width="0.9"/>
<rect x="8.5" y="15" width="10" height="4.6" rx="0" stroke="#444" stroke-width="0.6" fill="#7a7a7a"/>
<rect x="23.5" y="15" width="10" height="4.6" rx="0" stroke="#444" stroke-width="0.6" fill="#7a7a7a"/>
<line x1="8.5" y1="15.3" x2="18.5" y2="15.3" stroke="#222" stroke-width="1"/>
<line x1="23.5" y1="15.3" x2="33.5" y2="15.3" stroke="#222" stroke-width="1"/>
<line x1="10.5" y1="16.2" x2="10.5" y2="19" stroke="#e8e8e8" stroke-width="0.9"/>
<line x1="13.5" y1="16.2" x2="13.5" y2="19" stroke="#e8e8e8" stroke-width="0.9"/>
<line x1="16.5" y1="16.2" x2="16.5" y2="19" stroke="#e8e8e8" stroke-width="0.9"/>
<line x1="25.5" y1="16.2" x2="25.5" y2="19" stroke="#e8e8e8" stroke-width="0.9"/>
<line x1="28.5" y1="16.2" x2="28.5" y2="19" stroke="#e8e8e8" stroke-width="0.9"/>
<line x1="31.5" y1="16.2" x2="31.5" y2="19" stroke="#e8e8e8" stroke-width="0.9"/>
<line x1="4.5" y1="21.6" x2="37.5" y2="21.6" stroke="#4c4c4c" stroke-width="0.8"/>
<line x1="4.5" y1="22.8" x2="37.5" y2="22.8" stroke="#8c8c8c" stroke-width="0.6"/>
<rect x="3.6" y="29.9" width="34.8" height="3.5" rx="0" stroke="#222" stroke-width="0.9" fill="#383838"/>
<rect x="4.6" y="31.2" width="6.800000000000001" height="1.4" rx="0" stroke="#fff" stroke-width="0" fill="#e6e6e6"/>
<rect x="12.8" y="31.2" width="7.099999999999998" height="1.4" rx="0" stroke="#fff" stroke-width="0" fill="#e6e6e6"/>
<rect x="21.3" y="31.2" width="7.899999999999999" height="1.4" rx="0" stroke="#fff" stroke-width="0" fill="#e6e6e6"/>
<rect x="30.6" y="31.2" width="6.799999999999997" height="1.4" rx="0" stroke="#fff" stroke-width="0" fill="#e6e6e6"/>
<line x1="0" y1="29.9" x2="3.6" y2="29.9" stroke="#222" stroke-width="0.9"/>
<line x1="38.4" y1="29.9" x2="42" y2="29.9" stroke="#222" stroke-width="0.9"/>
<path d="M0.6,33.4 C1.5,39.0 8,44.6 12,44.6 H30 C34,44.6 40.5,39.0 41.4,33.4" stroke="#222" stroke-width="1.2" fill="none"/>
<path d="M4.5,35.0 C11,38.6 31,38.6 37.5,35.0" stroke="#8c8c8c" stroke-width="0.8" fill="none"/>
<path d="M8.5,39.0 C14,41.8 28,41.8 33.5,39.0" stroke="#8c8c8c" stroke-width="0.7" fill="none"/>
<line x1="14" y1="42.800000000000004" x2="28" y2="42.800000000000004" stroke="#8c8c8c" stroke-width="0.7"/>
</g>
<text x="13.6" y="214.4" font-size="8.2" fill="#a8a8a8" stroke="none" textLength="8.6" lengthAdjust="spacingAndGlyphs">P1</text>
<text x="68.2" y="213.2" font-size="8.2" fill="#a8a8a8" stroke="none" textLength="14.2" lengthAdjust="spacingAndGlyphs">P10</text>
<text x="12.8" y="264" font-size="8.2" fill="#a8a8a8" stroke="none" textLength="14.2" lengthAdjust="spacingAndGlyphs">P20</text>
<text x="68.2" y="265.4" font-size="8.2" fill="#a8a8a8" stroke="none" textLength="12.8" lengthAdjust="spacingAndGlyphs">P11</text>
<line x1="19.2" y1="214.4" x2="25" y2="220" stroke="#b4b4b4" stroke-width="0.6"/>
<line x1="69" y1="212.8" x2="65.5" y2="216.6" stroke="#b4b4b4" stroke-width="0.6"/>
<path d="M20.5,257 C21,252 23,248 24.5,246" stroke="#b4b4b4" stroke-width="0.6" fill="none"/>
<path d="M72,259 C71,252 68,248 66,246" stroke="#b4b4b4" stroke-width="0.6" fill="none"/>
<text x="16.5" y="275.9" font-size="9.6" fill="#2e2e2e" stroke="none" textLength="24.7" lengthAdjust="spacingAndGlyphs"><tspan fill="#b0b0b0">D</tspan>ETAIL</text>
<text x="47.1" y="275.9" font-size="9.6" fill="#9a9a9a" stroke="none" textLength="11.2" lengthAdjust="spacingAndGlyphs">"A"</text>
<text x="63.6" y="275.9" font-size="9.6" fill="#a4a4a4" stroke="none" textLength="11.2" lengthAdjust="spacingAndGlyphs">2:1</text>
<line x1="16.1" y1="277.3" x2="75" y2="277.3" stroke="#3a3a3a" stroke-width="1.2" stroke-dasharray="9 1.2 4.2 1.4 6 0.8"/>
<line x1="16.1" y1="279.1" x2="75" y2="279.1" stroke="#3a3a3a" stroke-width="1.2" stroke-dasharray="9 1.2 4.2 1.4 6 0.8"/>
<circle cx="585.3" cy="232.8" r="27.6" stroke="#b4b4b4" stroke-width="0.7" fill="none" stroke-dasharray="3.2 1.6"/>
<g transform="translate(564.3 214.8) scale(1.0)">
<rect x="0" y="0" width="42" height="34.5" rx="0" stroke="#222" stroke-width="1.2" fill="none"/>
<rect x="0.3" y="0.3" width="41.4" height="2.3" rx="0" stroke="#222" stroke-width="0.8" fill="#2a2a2a"/>
<rect x="3.6" y="2.6" width="7.800000000000001" height="2.6" rx="0" stroke="#222" stroke-width="0.8" fill="#f4f4f4"/>
<rect x="13.6" y="2.6" width="12.799999999999999" height="2.6" rx="0" stroke="#222" stroke-width="0.8" fill="#f4f4f4"/>
<rect x="28.6" y="2.6" width="9.199999999999996" height="2.6" rx="0" stroke="#222" stroke-width="0.8" fill="#f4f4f4"/>
<rect x="17" y="2.2" width="9" height="1.6" rx="0" stroke="#222" stroke-width="0" fill="#222"/>
<line x1="0" y1="5.7" x2="42" y2="5.7" stroke="#222" stroke-width="1.3"/>
<line x1="3.6" y1="5.7" x2="3.6" y2="34.5" stroke="#222" stroke-width="1.1"/>
<line x1="38.4" y1="5.7" x2="38.4" y2="34.5" stroke="#222" stroke-width="1.1"/>
<line x1="1.8" y1="5.7" x2="1.8" y2="31.1" stroke="#4c4c4c" stroke-width="0.7"/>
<line x1="40.2" y1="5.7" x2="40.2" y2="31.1" stroke="#4c4c4c" stroke-width="0.7"/>
<rect x="-1.4" y="8.5" width="1.6" height="4.300000000000001" rx="0" stroke="#222" stroke-width="0.7" fill="#555"/>
<rect x="41.8" y="8.5" width="1.6" height="4.300000000000001" rx="0" stroke="#222" stroke-width="0.7" fill="#555"/>
<rect x="-1.4" y="15" width="1.6" height="5" rx="0" stroke="#222" stroke-width="0.7" fill="#555"/>
<rect x="41.8" y="15" width="1.6" height="5" rx="0" stroke="#222" stroke-width="0.7" fill="#555"/>
<rect x="-1.4" y="22.6" width="1.6" height="4.399999999999999" rx="0" stroke="#222" stroke-width="0.7" fill="#555"/>
<rect x="41.8" y="22.6" width="1.6" height="4.399999999999999" rx="0" stroke="#222" stroke-width="0.7" fill="#555"/>
<rect x="36.6" y="8.5" width="2" height="11.5" rx="0" stroke="#222" stroke-width="0" fill="#222"/>
<line x1="3.6" y1="7" x2="38.4" y2="7" stroke="#222" stroke-width="1.2"/>
<rect x="5.2" y="8" width="31.6" height="4.4" rx="0" stroke="#8c8c8c" stroke-width="0.6" fill="#e4e4e4"/>
<line x1="6.4" y1="13.5" x2="35.6" y2="13.5" stroke="#222" stroke-width="1.5"/>
<line x1="6.4" y1="13.5" x2="6.4" y2="20.5" stroke="#222" stroke-width="0.9"/>
<line x1="35.6" y1="13.5" x2="35.6" y2="20.5" stroke="#222" stroke-width="0.9"/>
<rect x="8.5" y="15" width="10" height="4.6" rx="0" stroke="#444" stroke-width="0.6" fill="#7a7a7a"/>
<rect x="23.5" y="15" width="10" height="4.6" rx="0" stroke="#444" stroke-width="0.6" fill="#7a7a7a"/>
<line x1="8.5" y1="15.3" x2="18.5" y2="15.3" stroke="#222" stroke-width="1"/>
<line x1="23.5" y1="15.3" x2="33.5" y2="15.3" stroke="#222" stroke-width="1"/>
<line x1="10.5" y1="16.2" x2="10.5" y2="19" stroke="#e8e8e8" stroke-width="0.9"/>
<line x1="13.5" y1="16.2" x2="13.5" y2="19" stroke="#e8e8e8" stroke-width="0.9"/>
<line x1="16.5" y1="16.2" x2="16.5" y2="19" stroke="#e8e8e8" stroke-width="0.9"/>
<line x1="25.5" y1="16.2" x2="25.5" y2="19" stroke="#e8e8e8" stroke-width="0.9"/>
<line x1="28.5" y1="16.2" x2="28.5" y2="19" stroke="#e8e8e8" stroke-width="0.9"/>
<line x1="31.5" y1="16.2" x2="31.5" y2="19" stroke="#e8e8e8" stroke-width="0.9"/>
<line x1="4.5" y1="21.6" x2="37.5" y2="21.6" stroke="#4c4c4c" stroke-width="0.8"/>
<line x1="4.5" y1="22.8" x2="37.5" y2="22.8" stroke="#8c8c8c" stroke-width="0.6"/>
<rect x="3.6" y="31.0" width="34.8" height="3.5" rx="0" stroke="#222" stroke-width="0.9" fill="#383838"/>
<rect x="4.6" y="32.3" width="6.800000000000001" height="1.4" rx="0" stroke="#fff" stroke-width="0" fill="#e6e6e6"/>
<rect x="12.8" y="32.3" width="7.099999999999998" height="1.4" rx="0" stroke="#fff" stroke-width="0" fill="#e6e6e6"/>
<rect x="21.3" y="32.3" width="7.899999999999999" height="1.4" rx="0" stroke="#fff" stroke-width="0" fill="#e6e6e6"/>
<rect x="30.6" y="32.3" width="6.799999999999997" height="1.4" rx="0" stroke="#fff" stroke-width="0" fill="#e6e6e6"/>
<line x1="0" y1="31.0" x2="3.6" y2="31.0" stroke="#222" stroke-width="0.9"/>
<line x1="38.4" y1="31.0" x2="42" y2="31.0" stroke="#222" stroke-width="0.9"/>
<path d="M0.6,34.5 C1.5,39.1 8,43.8 12,43.8 H30 C34,43.8 40.5,39.1 41.4,34.5" stroke="#222" stroke-width="1.2" fill="none"/>
<path d="M4.5,36.1 C11,38.8 31,38.8 37.5,36.1" stroke="#8c8c8c" stroke-width="0.8" fill="none"/>
<path d="M8.5,39.1 C14,41.5 28,41.5 33.5,39.1" stroke="#8c8c8c" stroke-width="0.7" fill="none"/>
<line x1="14" y1="42.0" x2="28" y2="42.0" stroke="#8c8c8c" stroke-width="0.7"/>
</g>
<text x="554.7" y="211.6" font-size="8.2" fill="#a8a8a8" stroke="none" textLength="8.2" lengthAdjust="spacingAndGlyphs">P1</text>
<text x="608.3" y="209.5" font-size="8.2" fill="#a8a8a8" stroke="none" textLength="13.6" lengthAdjust="spacingAndGlyphs">P10</text>
<text x="552.8" y="261" font-size="8.2" fill="#a8a8a8" stroke="none" textLength="13.6" lengthAdjust="spacingAndGlyphs">P20</text>
<text x="606.4" y="260.3" font-size="8.2" fill="#a8a8a8" stroke="none" textLength="12.6" lengthAdjust="spacingAndGlyphs">P11</text>
<line x1="560" y1="211.6" x2="565.5" y2="218" stroke="#b4b4b4" stroke-width="0.6"/>
<line x1="609" y1="209.4" x2="605.5" y2="214.5" stroke="#b4b4b4" stroke-width="0.6"/>
<path d="M561,254.6 C561.5,250 563,247 564.5,245" stroke="#b4b4b4" stroke-width="0.6" fill="none"/>
<path d="M610,254 C609.5,250 608,247 606.5,245" stroke="#b4b4b4" stroke-width="0.6" fill="none"/>
<text x="560.9" y="277.6" font-size="9.6" fill="#2e2e2e" stroke="none" textLength="24.7" lengthAdjust="spacingAndGlyphs"><tspan fill="#b0b0b0">D</tspan>ETAIL</text>
<text x="591.5" y="277.6" font-size="9.6" fill="#9a9a9a" stroke="none" textLength="11.2" lengthAdjust="spacingAndGlyphs">"B"</text>
<text x="608" y="277.6" font-size="9.6" fill="#a4a4a4" stroke="none" textLength="11.2" lengthAdjust="spacingAndGlyphs">2:1</text>
<line x1="560.5" y1="279.2" x2="619.8" y2="279.2" stroke="#3a3a3a" stroke-width="1.2" stroke-dasharray="9 1.2 4.2 1.4 6 0.8"/>
<line x1="560.5" y1="281" x2="619.8" y2="281" stroke="#3a3a3a" stroke-width="1.2" stroke-dasharray="9 1.2 4.2 1.4 6 0.8"/>
<circle cx="49" cy="158.6" r="14" stroke="#c0c0c0" stroke-width="0.6" fill="none" stroke-dasharray="2 1.4"/>
<g transform="translate(38.2 148.3) scale(0.528)">
<path d="M0.5,1.5 Q0.5,0 2,0 H40 Q41.5,0 41.5,1.5 V33 H0.5 Z" stroke="#222" stroke-width="1.2" fill="#1c1c1c"/>
<rect x="5" y="6" width="32" height="2.2" rx="0" stroke="#fff" stroke-width="0" fill="#d8d8d8"/>
<rect x="5" y="10.5" width="32" height="1.2" rx="0" stroke="#fff" stroke-width="0" fill="#9a9a9a"/>
<rect x="6" y="14" width="30" height="6.5" rx="0" stroke="#fff" stroke-width="0" fill="#cfcfcf"/>
<rect x="9" y="15" width="9" height="5" rx="0" stroke="#222" stroke-width="0" fill="#222"/>
<rect x="24" y="15" width="9" height="5" rx="0" stroke="#222" stroke-width="0" fill="#222"/>
<rect x="4" y="24" width="34" height="4.4" rx="0" stroke="#fff" stroke-width="0" fill="#f2f2f2"/>
<path d="M1,33 C2,40 9,45.5 15,45.5 H27 C33,45.5 40,40 41,33" stroke="#222" stroke-width="2.2" fill="#fff"/>
<path d="M6,36 C12,40.5 30,40.5 36,36" stroke="#4c4c4c" stroke-width="1.6" fill="none"/>
<line x1="13" y1="43" x2="29" y2="43" stroke="#4c4c4c" stroke-width="1.4"/>
</g>
<text x="33.4" y="136.4" font-size="8" fill="#707070" stroke="none">A</text>
<polyline points="38.4,134.4 45.4,134.4 47.6,142.2" stroke="#8c8c8c" stroke-width="0.6" fill="none"/>
<polygon points="46.7,141.6 48,144.4 48.6,141.3" stroke="#4c4c4c" stroke-width="0.6" fill="#4c4c4c"/>
<text x="27.9" y="146.7" font-size="8.2" fill="#a8a8a8" stroke="none" textLength="8.7" lengthAdjust="spacingAndGlyphs">P1</text>
<text x="59.3" y="147.6" font-size="8.2" fill="#a8a8a8" stroke="none" textLength="15" lengthAdjust="spacingAndGlyphs">P10</text>
<text x="23.8" y="174" font-size="8.2" fill="#a8a8a8" stroke="none" textLength="14.4" lengthAdjust="spacingAndGlyphs">P20</text>
<text x="60.4" y="174" font-size="8.2" fill="#a8a8a8" stroke="none" textLength="13.9" lengthAdjust="spacingAndGlyphs">P11</text>
<path d="M36,147 V151 L38.5,153" stroke="#b8b8b8" stroke-width="0.6" fill="none"/>
<path d="M62.5,147.6 V151 L60.5,153" stroke="#b8b8b8" stroke-width="0.6" fill="none"/>
<path d="M34.5,167.6 V162 L38,159" stroke="#b8b8b8" stroke-width="0.6" fill="none"/>
<path d="M64,168 V161 L60.8,158" stroke="#b8b8b8" stroke-width="0.6" fill="none"/>
<circle cx="623.2" cy="158.4" r="13.6" stroke="#c0c0c0" stroke-width="0.6" fill="none" stroke-dasharray="2 1.4"/>
<g transform="translate(612.5 147.9) scale(0.507)">
<path d="M0.5,1.5 Q0.5,0 2,0 H40 Q41.5,0 41.5,1.5 V33 H0.5 Z" stroke="#222" stroke-width="1.2" fill="#1c1c1c"/>
<rect x="5" y="6" width="32" height="2.2" rx="0" stroke="#fff" stroke-width="0" fill="#d8d8d8"/>
<rect x="5" y="10.5" width="32" height="1.2" rx="0" stroke="#fff" stroke-width="0" fill="#9a9a9a"/>
<rect x="6" y="14" width="30" height="6.5" rx="0" stroke="#fff" stroke-width="0" fill="#cfcfcf"/>
<rect x="9" y="15" width="9" height="5" rx="0" stroke="#222" stroke-width="0" fill="#222"/>
<rect x="24" y="15" width="9" height="5" rx="0" stroke="#222" stroke-width="0" fill="#222"/>
<rect x="4" y="24" width="34" height="4.4" rx="0" stroke="#fff" stroke-width="0" fill="#f2f2f2"/>
<path d="M1,33 C2,40 9,45.5 15,45.5 H27 C33,45.5 40,40 41,33" stroke="#222" stroke-width="2.2" fill="#fff"/>
<path d="M6,36 C12,40.5 30,40.5 36,36" stroke="#4c4c4c" stroke-width="1.6" fill="none"/>
<line x1="13" y1="43" x2="29" y2="43" stroke="#4c4c4c" stroke-width="1.4"/>
</g>
<text x="608.2" y="137" font-size="8" fill="#9a9a9a" stroke="none">B</text>
<polyline points="613.3,134.2 619.6,134.2 622,141.6" stroke="#8c8c8c" stroke-width="0.6" fill="none"/>
<polygon points="621.1,141 622.5,143.6 623,140.6" stroke="#4c4c4c" stroke-width="0.6" fill="#4c4c4c"/>
<text x="603.1" y="146.4" font-size="8.2" fill="#a8a8a8" stroke="none" textLength="8" lengthAdjust="spacingAndGlyphs">P1</text>
<text x="633.8" y="147.8" font-size="8.2" fill="#a8a8a8" stroke="none" textLength="15" lengthAdjust="spacingAndGlyphs">P10</text>
<text x="598.3" y="174.6" font-size="8.2" fill="#a8a8a8" stroke="none" textLength="15" lengthAdjust="spacingAndGlyphs">P20</text>
<text x="634.7" y="174.6" font-size="8.2" fill="#a8a8a8" stroke="none" textLength="14" lengthAdjust="spacingAndGlyphs">P11</text>
<path d="M610.5,146.6 V150 L612.8,152" stroke="#b8b8b8" stroke-width="0.6" fill="none"/>
<path d="M636,148 V151 L634,153" stroke="#b8b8b8" stroke-width="0.6" fill="none"/>
<path d="M609.5,168 V162 L612.5,159" stroke="#b8b8b8" stroke-width="0.6" fill="none"/>
<path d="M637.5,168.4 V161 L634,158" stroke="#b8b8b8" stroke-width="0.6" fill="none"/>
</svg>
<h1 id="h1b">Ordering information</h1>
<div id="sub">25G SFP28 Copper Cable Assemblies, Passive</div>
<div id="tb">
<div style="left:3.3px;top:382px;width:661.7px;height:27px;background:#c0c0c0"></div>
<div style="left:3.3px;top:382px;width:661.7px;height:1.8px;background:#666"></div>
<div style="left:3.3px;top:407.8px;width:661.7px;height:1.8px;background:#555"></div>
<div style="left:3.3px;top:589.4px;width:661.7px;height:1.6px;background:#555"></div>
<div class="hl" style="top:430.5px"></div>
<div class="hl" style="top:452.1px"></div>
<div class="hl" style="top:475.5px"></div>
<div class="hl" style="top:497.1px"></div>
<div class="hl" style="top:519.8px"></div>
<div class="hl" style="top:543.2px"></div>
<div class="hl" style="top:565.9px"></div>
<div class="vl" style="left:3.3px;width:1.5px;background:#555"></div>
<div class="vl" style="left:192.95px;width:1.7px;background:#484848"></div>
<div class="vl" style="left:276.60px;width:1.4px;background:#3c3c3c"></div>
<div class="vl" style="left:382.90px;width:1.2px;background:#222"></div>
<div class="vl" style="left:519.15px;width:1.7px;background:#606060"></div>
<div class="vl" style="left:663.2px;width:1.8px;background:#666"></div>
<div class="t b" style="left:-3.7px;top:389.2px">P/N</div>
<div class="t b" style="left:133.4px;top:389.2px">Length</div>
<div class="t b" style="left:233.6px;top:389.2px">Data Rate</div>
<div class="t b" style="left:354.8px;top:389.2px">AWG</div>
<div class="t b" style="left:495.1px;top:389.2px">Length Tolerance</div>
<div class="t p" style="left:12.9px;top:414.4px">FT-77-CAB-ZSP/ZSP-P50CM</div>
<div class="t" style="left:133.4px;top:412.8px">0.5M</div>
<div class="t" style="left:233.5px;top:412.8px">25G</div>
<div class="t n" style="left:410.3px;top:412.8px">26</div>
<div class="t n" style="left:448.5px;top:412.8px">28</div>
<div class="t n" style="left:483.7px;top:412.8px">30</div>
<div class="t" style="left:495.6px;top:412.8px">+2/-2cm</div>
<div class="t p" style="left:12.9px;top:434.1px">FT-77-CAB-ZSP/ZSP-P1M</div>
<div class="t" style="left:133.4px;top:435.0px">1M</div>
<div class="t" style="left:233.5px;top:435.0px">25G</div>
<div class="t n" style="left:410.3px;top:435.0px">26</div>
<div class="t n" style="left:448.5px;top:435.0px">28</div>
<div class="t n" style="left:483.7px;top:435.0px">30</div>
<div class="t" style="left:495.6px;top:435.0px">+3/-3cm</div>
<div class="t p" style="left:12.9px;top:457.1px">FT-77-CAB-ZSP/ZSP-P1.5M</div>
<div class="t" style="left:133.4px;top:457.2px">1.5M</div>
<div class="t" style="left:233.5px;top:457.2px">25G</div>
<div class="t n" style="left:410.3px;top:457.2px">26</div>
<div class="t n" style="left:448.5px;top:457.2px">28</div>
<div class="t n" style="left:483.7px;top:457.2px">30</div>
<div class="t" style="left:495.6px;top:457.2px">+3/-3cm</div>
<div class="t p" style="left:12.9px;top:479.9px">FT-77-CAB-ZSP/ZSP-P2M</div>
<div class="t" style="left:133.4px;top:479.8px">2M</div>
<div class="t" style="left:233.5px;top:479.8px">25G</div>
<div class="t n" style="left:412.6px;top:479.8px">26</div>
<div class="t n" style="left:450.3px;top:479.8px">28</div>
<div class="t n" style="left:481.9px;top:479.8px">30</div>
<div class="t" style="left:495.6px;top:479.8px">+3/-3cm</div>
<div class="t p" style="left:12.9px;top:502.3px">FT-77-CAB-ZSP/ZSP-P2.5M</div>
<div class="t" style="left:133.4px;top:502.2px">2.5M</div>
<div class="t" style="left:233.5px;top:502.2px">25G</div>
<div class="t n" style="left:410.3px;top:502.2px">26</div>
<div class="t n" style="left:448.5px;top:502.2px">28</div>
<div class="t n" style="left:483.7px;top:502.2px">30</div>
<div class="t" style="left:495.6px;top:502.2px">+3/-3cm</div>
<div class="t p" style="left:12.9px;top:525.2px">FT-77-CAB-ZSP/ZSP-P3M</div>
<div class="t" style="left:133.4px;top:525.2px">3M</div>
<div class="t" style="left:233.5px;top:525.2px">25G</div>
<div class="t n" style="left:413.7px;top:525.2px">26</div>
<div class="t n" style="left:452.1px;top:525.2px">28</div>
<div class="t n" style="left:486.6px;top:525.2px">30</div>
<div class="t" style="left:495.6px;top:525.2px">+3/-3cm</div>
<div class="t p" style="left:12.9px;top:547.3px">FT-77-CAB-ZSP/ZSP-P4M</div>
<div class="t" style="left:133.4px;top:547.9px">4M</div>
<div class="t" style="left:233.5px;top:547.9px">25G</div>
<div class="t n" style="left:427.7px;top:547.9px">26</div>
<div class="t n" style="left:469.8px;top:547.9px">/</div>
<div class="t n" style="left:501.3px;top:547.9px">/</div>
<div class="t" style="left:495.6px;top:547.9px">+6/-6cm</div>
<div class="t p" style="left:12.9px;top:570.2px">FT-77-CAB-ZSP/ZSP-P5M</div>
<div class="t" style="left:133.4px;top:570.4px">5M</div>
<div class="t" style="left:233.5px;top:570.4px">25G</div>
<div class="t n" style="left:427.7px;top:570.4px">26</div>
<div class="t n" style="left:466.3px;top:570.4px">/</div>
<div class="t n" style="left:501.3px;top:570.4px">/</div>
<div class="t" style="left:495.6px;top:570.4px">+6/-6cm</div>
</div>
</body></html>
